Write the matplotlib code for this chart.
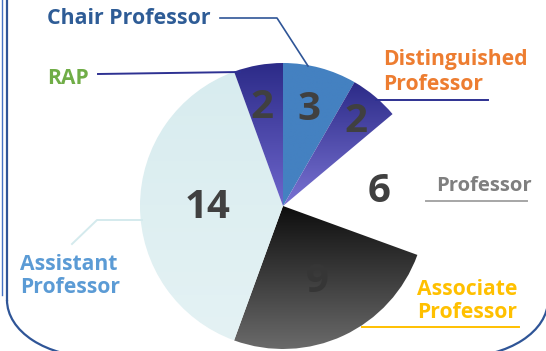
import matplotlib
matplotlib.use("Agg")
import matplotlib.pyplot as plt
import numpy as np
from matplotlib.colors import to_rgb
from matplotlib.patches import Arc

plt.rcParams['font.family'] = ['Open Sans', 'DejaVu Sans']

# data, clockwise from 12 o'clock
titles = ["Chair Professor", "Distinguished\nProfessor", "Professor",
          "Associate\nProfessor", "Assistant\nProfessor", "RAP"]
counts = [3, 2, 6, 9, 14, 2]
title_colors = ["#2E5C96", "#ED7D31", "#7F7F7F", "#FFC000", "#5B9BD5", "#70AD47"]
# (top colour, bottom colour) of each slice, None = flat white
fills = [("#4481C1", "#4481C1"), ("#2C2B88", "#7A73D3"), None,
         ("#0E0E0E", "#6A6A6A"), ("#D8ECEF", "#E4F2F4"), ("#2C2B88", "#6E66CC")]
num_r = [0.71, 0.79, 0.68, 0.57, 0.53, 0.72]
num_da = [0, 0, 0, 0, 0, -2]

W, H = 546, 351
cx, cy, R = 283, 206, 143

fig = plt.figure(figsize=(W / 100, H / 100), dpi=100)
ax = fig.add_axes([0, 0, 1, 1])

# y axis runs downward, so counterclock=True turns clockwise on screen
wedges, _ = ax.pie(counts, startangle=-90, counterclock=True, center=(cx, cy),
                   radius=R, colors=["white"] * len(counts),
                   wedgeprops=dict(linewidth=0.4, edgecolor="white"))

for w, f in zip(wedges, fills):
    if f is None:
        continue
    # vertical gradient clipped to the slice
    bb = w.get_path().get_extents()
    c0, c1 = np.array(to_rgb(f[0])), np.array(to_rgb(f[1]))
    t = np.linspace(0, 1, 200)[:, None, None]
    img = c0 + (c1 - c0) * t
    y0 = min(bb.y0, bb.y1)
    y1 = max(bb.y0, bb.y1)
    im = ax.imshow(img, extent=(cx - R - 2, cx + R + 2, y1, y0), origin="upper",
                   aspect="auto", interpolation="bilinear", zorder=1)
    im.set_clip_path(w)
    w.set_zorder(0)

for w, n, rf, da in zip(wedges, counts, num_r, num_da):
    mid = np.deg2rad((w.theta1 + w.theta2) / 2 + da)
    col = "#363636" if n == 9 else "#404040"
    ax.text(cx + rf * R * np.cos(mid), cy + rf * R * np.sin(mid) + 2, str(n),
            ha="center", va="center", fontsize=29, fontweight="bold",
            color=col, zorder=3)

# category titles
fs = 15.2
kw = dict(fontsize=fs, fontweight="bold", va="center", ha="left")
ax.text(47, 18, titles[0], color=title_colors[0], fontsize=15.4,
        fontweight="bold", va="center", ha="left")
ax.text(383, 72, titles[1], color=title_colors[1], linespacing=1.22, **kw)
ax.text(436, 186, titles[2], color=title_colors[2], fontsize=14.6,
        fontweight="bold", va="center", ha="left")
ax.text(417, 301, titles[3], color=title_colors[3], linespacing=1.1, **kw)
ax.text(20, 276, titles[4], color=title_colors[4], linespacing=1.1, **kw)
ax.text(47, 78, titles[5], color=title_colors[5], **kw)

# leader lines
ax.plot([220, 277, 308], [18, 18, 66], color="#2F5597", lw=1.2, zorder=4)
ax.plot([376, 488], [100, 100], color="#2E3192", lw=1.4, zorder=4)
ax.plot([426, 527], [201, 201], color="#A6A6A6", lw=1.4, zorder=4)
ax.plot([362, 519], [327, 327], color="#FFC000", lw=1.4, zorder=4)
ax.plot([72, 97, 142], [244, 220, 220], color="#D4EAED", lw=1.4, zorder=4)
ax.plot([98, 240], [74, 72], color="#2E3192", lw=1.4, zorder=4)

# frame with elliptical bottom corners
fc = "#2F5597"
ax.plot([7, 7], [-5, 300], color=fc, lw=1.6, zorder=5)
ax.plot([548, 548], [-5, 300], color=fc, lw=1.6, zorder=5)
ax.plot([95, 460], [357, 357], color=fc, lw=1.6, zorder=5)
ax.add_patch(Arc((95, 300), 176, 114, theta1=90, theta2=180, ec=fc, lw=1.6, zorder=5))
ax.add_patch(Arc((460, 300), 176, 114, theta1=0, theta2=90, ec=fc, lw=1.6, zorder=5))
ax.plot([1.5, 1.5], [0, 295], color="#4472C4", lw=1.0, zorder=5)

ax.set_xlim(0, W)
ax.set_ylim(H, 0)
ax.set_aspect("auto")
ax.axis("off")

fig.savefig("out.png", dpi=100)
